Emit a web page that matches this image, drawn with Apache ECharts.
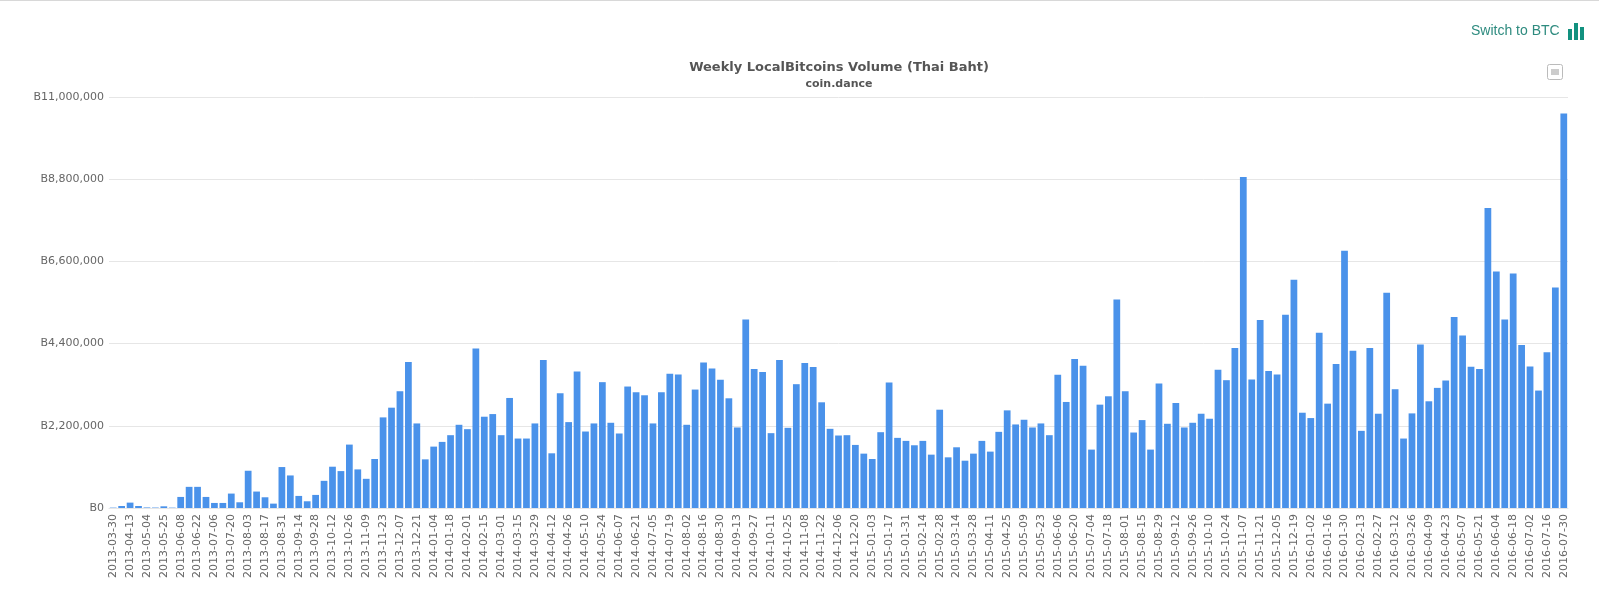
<!DOCTYPE html>
<html><head><meta charset="utf-8">
<style>html,body{margin:0;padding:0;background:#fff}#c{width:1599px;height:613px}</style>
<script src="https://cdn.jsdelivr.net/npm/echarts@6/dist/echarts.min.js"></script>
</head><body><div id="c"></div>
<script>
const titleText = 'Weekly LocalBitcoins Volume (Thai Baht)';
const subtitleText = 'coin.dance';
const switchText = 'Switch to BTC';
const yMax = 11000000;
const yStep = 2200000;
const categories = [
'2013-03-30','2013-04-06','2013-04-13','2013-04-27','2013-05-04','2013-05-11','2013-05-25','2013-06-01','2013-06-08','2013-06-15','2013-06-22','2013-06-29','2013-07-06','2013-07-13','2013-07-20','2013-07-27','2013-08-03','2013-08-10','2013-08-17','2013-08-24','2013-08-31','2013-09-07','2013-09-14','2013-09-21','2013-09-28','2013-10-05','2013-10-12','2013-10-19','2013-10-26','2013-11-02','2013-11-09','2013-11-16','2013-11-23','2013-11-30','2013-12-07','2013-12-14','2013-12-21','2013-12-28',
'2014-01-04','2014-01-11','2014-01-18','2014-01-25','2014-02-01','2014-02-08','2014-02-15','2014-02-22','2014-03-01','2014-03-08','2014-03-15','2014-03-22','2014-03-29','2014-04-05','2014-04-12','2014-04-19','2014-04-26','2014-05-03','2014-05-10','2014-05-17','2014-05-24','2014-05-31','2014-06-07','2014-06-14','2014-06-21','2014-06-28','2014-07-05','2014-07-12','2014-07-19','2014-07-26','2014-08-02','2014-08-09','2014-08-16','2014-08-23','2014-08-30','2014-09-06','2014-09-13','2014-09-20','2014-09-27','2014-10-04','2014-10-11','2014-10-18','2014-10-25','2014-11-01','2014-11-08','2014-11-15','2014-11-22','2014-11-29','2014-12-06','2014-12-13','2014-12-20','2014-12-27',
'2015-01-03','2015-01-10','2015-01-17','2015-01-24','2015-01-31','2015-02-07','2015-02-14','2015-02-21','2015-02-28','2015-03-07','2015-03-14','2015-03-21','2015-03-28','2015-04-04','2015-04-11','2015-04-18','2015-04-25','2015-05-02','2015-05-09','2015-05-16','2015-05-23','2015-05-30','2015-06-06','2015-06-13','2015-06-20','2015-06-27','2015-07-04','2015-07-11','2015-07-18','2015-07-25','2015-08-01','2015-08-08','2015-08-15','2015-08-22','2015-08-29','2015-09-05','2015-09-12','2015-09-19','2015-09-26','2015-10-03','2015-10-10','2015-10-17','2015-10-24','2015-10-31','2015-11-07','2015-11-14','2015-11-21','2015-11-28','2015-12-05','2015-12-12','2015-12-19','2015-12-26',
'2016-01-02','2016-01-09','2016-01-16','2016-01-23','2016-01-30','2016-02-06','2016-02-13','2016-02-20','2016-02-27','2016-03-05','2016-03-12','2016-03-19','2016-03-26','2016-04-02','2016-04-09','2016-04-16','2016-04-23','2016-04-30','2016-05-07','2016-05-14','2016-05-21','2016-05-28','2016-06-04','2016-06-11','2016-06-18','2016-06-25','2016-07-02','2016-07-09','2016-07-16','2016-07-23','2016-07-30'];
const volume2013 = [10000,54000,144000,54000,15000,12000,45000,10000,296000,566000,566000,296000,135000,135000,386000,153000,997000,440000,287000,117000,1096000,871000,323000,180000,350000,727000,1105000,988000,1697000,1033000,781000,1311000,2425000,2685000,3125000,3906000,2263000,1302000];
const volume2014 = [1643000,1769000,1949000,2227000,2110000,4266000,2443000,2514000,1949000,2945000,1859000,1859000,2263000,3960000,1464000,3071000,2299000,3655000,2047000,2263000,3368000,2281000,1994000,3251000,3098000,3017000,2263000,3098000,3592000,3574000,2227000,3170000,3897000,3736000,3430000,2936000,2155000,5047000,3718000,3637000,2003000,3960000,2146000,3314000,3879000,3772000,2829000,2119000,1940000,1949000,1688000,1455000];
const volume2015 = [1311000,2029000,3359000,1877000,1796000,1679000,1796000,1428000,2631000,1356000,1625000,1266000,1455000,1796000,1509000,2038000,2613000,2236000,2362000,2155000,2263000,1949000,3565000,2838000,3987000,3808000,1563000,2766000,2990000,5577000,3125000,2020000,2353000,1563000,3332000,2254000,2811000,2155000,2281000,2523000,2389000,3700000,3421000,4283000,8860000,3439000,5029000,3664000,3574000,5173000,6110000,2550000];
const volume2016 = [2407000,4688000,2793000,3852000,6886000,4210000,2065000,4283000,2523000,5760000,3179000,1859000,2532000,4373000,2856000,3215000,3412000,5110000,4616000,3781000,3718000,8031000,6332000,5047000,6278000,4364000,3790000,3143000,4167000,5900000,10560000];
const volume = [...volume2013, ...volume2014, ...volume2015, ...volume2016];

const chart = echarts.init(document.getElementById('c'), null, {renderer:'canvas'});
const fam = '"DejaVu Sans", Verdana, sans-serif';
chart.setOption({
  animation:false,
  backgroundColor:'#fff',
  title:[
    {text:titleText,left:834,top:56,textAlign:'center',textStyle:{fontFamily:fam,fontSize:13,fontWeight:'bold',color:'#555'}},
    {text:subtitleText,left:834,top:74,textAlign:'center',textStyle:{fontFamily:fam,fontSize:11,fontWeight:'bold',color:'#555'}}
  ],
  grid:{left:109,right:31,top:97,bottom:105,containLabel:false},
  xAxis:{type:'category',data:categories,boundaryGap:true,
    axisLine:{show:true,lineStyle:{color:'#e6e6e6',width:1}},axisTick:{show:false},splitLine:{show:false},
    axisLabel:{interval:1,rotate:90,margin:6,fontFamily:fam,fontSize:11,color:'#666'}},
  yAxis:{type:'value',min:0,max:yMax,interval:yStep,
    axisLine:{show:false},axisTick:{show:false},
    splitLine:{show:true,lineStyle:{color:'#e6e6e6',width:1}},
    axisLabel:{margin:5,fontFamily:fam,fontSize:11,color:'#666',
      formatter:v=>'B'+v.toLocaleString('en-US')}},
  series:[{type:'bar',data:volume,barCategoryGap:'20%',itemStyle:{color:'#448ee9',opacity:0.97}}],
  graphic:[
    {type:'rect',shape:{x:0,y:0,width:1599,height:1},style:{fill:'#d8d8d8'},silent:true},
    {type:'text',style:{x:1471,y:31,text:switchText,fill:'#2e8b7f',font:'14px "Liberation Sans", Arial, sans-serif',textVerticalAlign:'middle'},silent:true},
    {type:'rect',shape:{x:1568,y:29,width:4,height:11},style:{fill:'#12917f'},silent:true},
    {type:'rect',shape:{x:1574,y:23,width:4,height:17},style:{fill:'#12917f'},silent:true},
    {type:'rect',shape:{x:1580,y:27,width:4,height:13},style:{fill:'#12917f'},silent:true},
    {type:'rect',shape:{x:1547.5,y:64.5,width:15,height:15,r:2},style:{fill:'#fff',stroke:'#bbb',lineWidth:1},silent:true},
    {type:'rect',shape:{x:1551,y:69,width:8,height:6},style:{fill:'#ccc'},silent:true}
  ]
});
</script></body></html>
